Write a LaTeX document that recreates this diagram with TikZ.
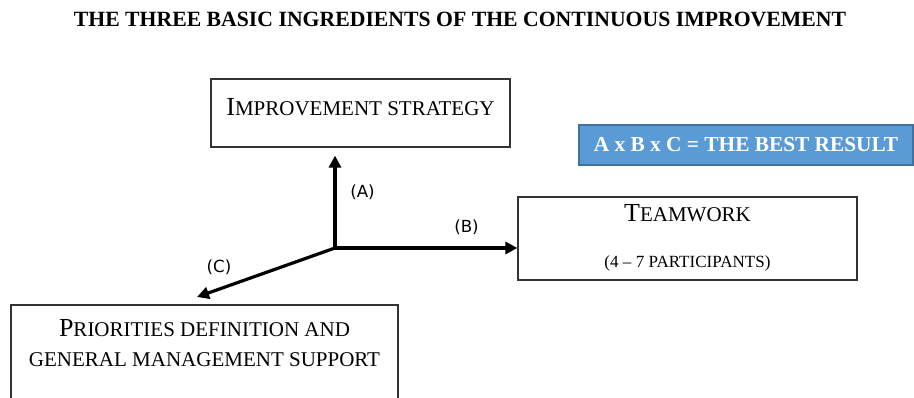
\documentclass[tikz,border=0pt]{standalone}
\usepackage{fontspec}
\setmainfont{Liberation Serif}
\newfontfamily\labelfont{DejaVu Sans}
\usetikzlibrary{arrows.meta}
\definecolor{resultblue}{HTML}{5B9BD5}
\definecolor{resultborder}{HTML}{41719C}
\newcommand{\bigsc}{\fontsize{19.5pt}{23pt}\selectfont}
\newcommand{\smallsc}{\fontsize{15.75pt}{19pt}\selectfont}
\tikzset{
  box/.style={draw=black!80, line width=0.9pt, rectangle, inner sep=0pt},
  axis/.style={line width=2.4pt, -{Triangle[length=9pt,width=9pt]}},
  lbl/.style={font=\labelfont\fontsize{12.5pt}{15pt}\selectfont, inner sep=0pt},
}
\begin{document}
\begin{tikzpicture}[x=0.75pt,y=-0.75pt]
\useasboundingbox (0,0) rectangle (914,398);
\clip (0,0) rectangle (914,398);
% title
\node[font=\bfseries\fontsize{16.3pt}{19pt}\selectfont, inner sep=0pt] (title) at (460,19)
  {THE THREE BASIC INGREDIENTS OF THE CONTINUOUS IMPROVEMENT};
% boxes
\node[box, minimum width=299*0.75pt, minimum height=68*0.75pt, text depth=9pt] (imp) at (360.5,113)
  {{\bigsc I}{\smallsc MPROVEMENT STRATEGY}};
\node[draw=resultborder, line width=0.9pt, fill=resultblue, text=white, inner sep=0pt,
  minimum width=334*0.75pt, minimum height=40*0.75pt,
  font=\bfseries\fontsize{16pt}{19pt}\selectfont] (res) at (746,145)
  {A x B x C = THE BEST RESULT};
\node[box, minimum width=339*0.75pt, minimum height=83*0.75pt, align=center, text depth=4pt,
  font=\fontsize{15.75pt}{35pt}\selectfont] (team) at (687.5,238.5)
  {{\bigsc T}{\smallsc EAMWORK}\\{\fontsize{12.8pt}{35pt}\selectfont (4 -- 7 PARTICIPANTS)}};
\node[box, minimum width=387*0.75pt, minimum height=125*0.75pt] (pri) at (204.5,367.5) {};
\node[align=center, inner sep=0pt, font=\fontsize{15.75pt}{22pt}\selectfont] (pritext) at (204.5,343)
  {{\bigsc P}{\smallsc RIORITIES DEFINITION AND}\\{\smallsc GENERAL MANAGEMENT SUPPORT}};
% axes
\coordinate (O) at (335,248);
\coordinate (cend) at (197,297);
\draw[axis, shorten >=6pt] (O) -- (O |- imp.south);
\draw[axis] (O) -- (O -| team.west);
\draw[axis] (O) -- (cend);
\node[lbl] (la) at (362.5,192) {(A)};
\node[lbl] (lb) at (466.5,227) {(B)};
\node[lbl] (lc) at (219,267) {(C)};
\end{tikzpicture}
\end{document}
